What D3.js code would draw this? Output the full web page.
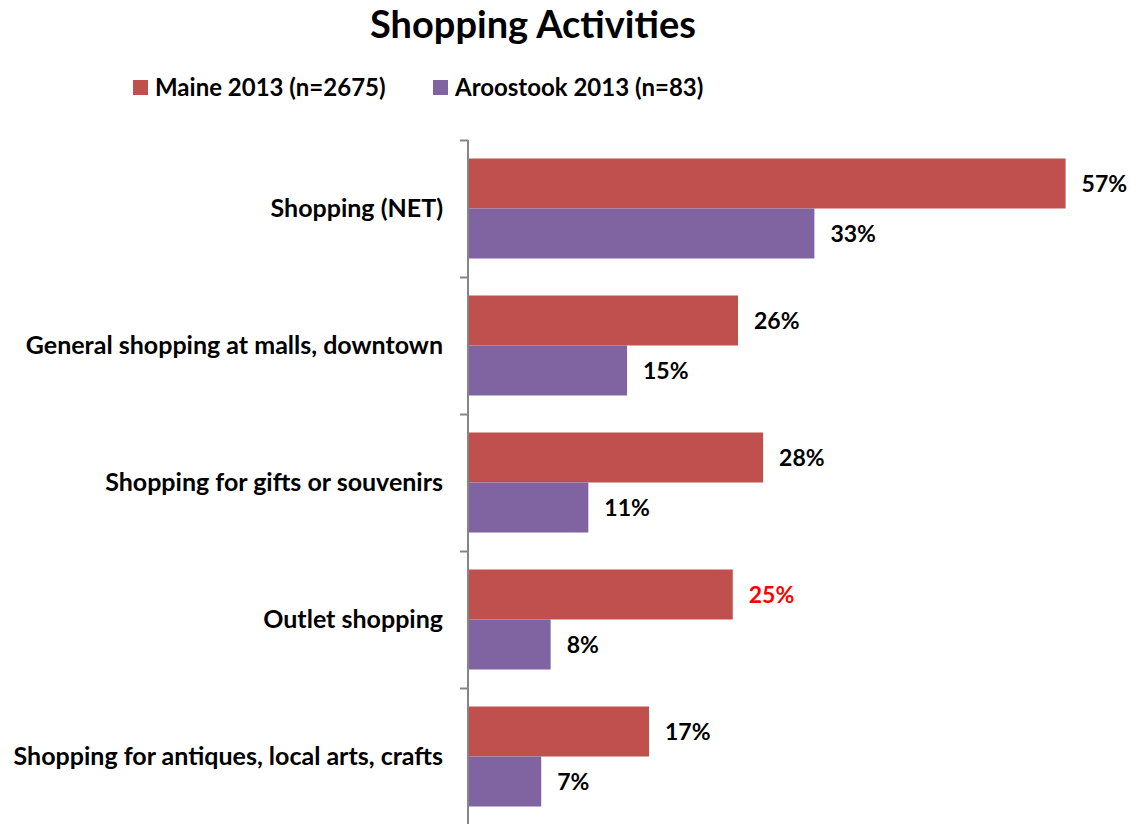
<!DOCTYPE html>
<html><head><meta charset="utf-8">
<script src="https://cdn.jsdelivr.net/npm/d3@7"></script>
<style>body{margin:0;background:#fff;} text{font-family:Lato,"Open Sans",sans-serif;font-weight:bold;}</style>
</head><body>
<svg id="c" width="1130" height="824"></svg>
<script>
const title = "Shopping Activities";
const categories = ["Shopping (NET)", "General shopping at malls, downtown", "Shopping for gifts or souvenirs", "Outlet shopping", "Shopping for antiques, local arts, crafts"];
const seriesNames = ["Maine 2013 (n=2675)", "Aroostook 2013 (n=83)"];
const maine = [0.57, 0.257, 0.281, 0.252, 0.172];
const aroostook = [0.33, 0.151, 0.114, 0.078, 0.069];
const highlight = [[false,false],[false,false],[false,false],[true,false],[false,false]];
const colors = ["#C0504D", "#8064A2"];

const svg = d3.select("#c");
const x = d3.scaleLinear().domain([0, 0.6]).range([469, 1097]);
const y0 = d3.scaleBand().domain(categories).range([140, 825]).paddingInner(0.27).paddingOuter(0.135);
const y1 = d3.scaleBand().domain([0,1]).range([0, y0.bandwidth()]);
const fmt = d3.format(".0%");

svg.append("text").attr("x", 533).attr("y", 38).attr("text-anchor","middle")
  .style("font-size","38px").text(title);

// legend
const legX = [133, 433];
seriesNames.forEach((n,i)=>{
  svg.append("rect").attr("x", legX[i]).attr("y", 80).attr("width", 15).attr("height", 15).attr("fill", colors[i]);
  svg.append("text").attr("x", legX[i]+22).attr("y", 88).attr("dy","0.35em").style("font-size","24px").text(n);
});

const data = categories.map((c,i)=>({c, vals:[maine[i], aroostook[i]], i}));
const g = svg.append("g");
data.forEach(d=>{
  d.vals.forEach((v,j)=>{
    const yy = y0(d.c) + y1(j);
    g.append("rect").attr("x", x(0)).attr("y", yy).attr("width", x(v)-x(0)).attr("height", y1.bandwidth()).attr("fill", colors[j]);
    g.append("text").attr("x", x(v)+16).attr("y", yy + y1.bandwidth()/2).attr("dy","0.35em")
      .style("font-size","23px").attr("fill", highlight[d.i][j] ? "#FF0000" : "#000").text(fmt(Math.round(v*100)/100));
  });
});

// axis
const axisG = svg.append("g").attr("transform","translate(468,0)");
const yAx = d3.scaleLinear().domain([0, categories.length]).range([140, 825]);
axisG.call(d3.axisLeft(yAx).tickValues(d3.range(categories.length+1)).tickSize(8).tickFormat(""));
axisG.selectAll("path,line").attr("stroke","#868686").attr("stroke-width",2);
axisG.select("path.domain").attr("d","M0,140V825");

categories.forEach(c=>{
  svg.append("text").attr("x", 443).attr("y", y0(c)+y0.bandwidth()/2).attr("dy","0.35em")
    .attr("text-anchor","end").style("font-size","25px").text(c);
});
</script>
</body></html>
